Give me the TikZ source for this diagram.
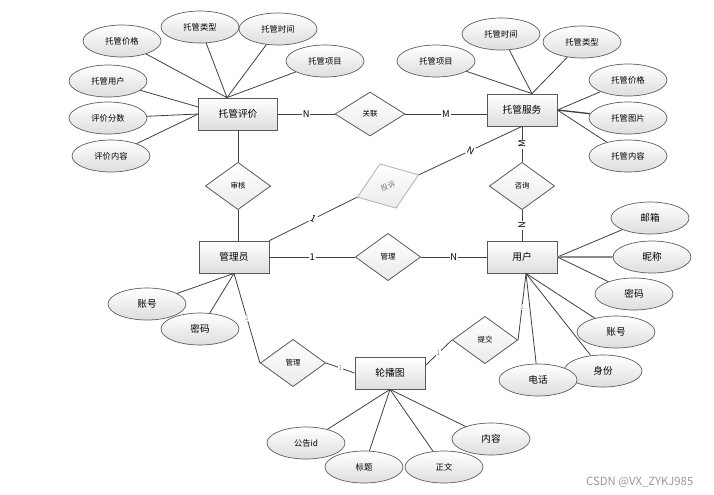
\documentclass[tikz,border=0pt]{standalone}
\usepackage{fontspec}
\setmainfont{Noto Sans CJK SC}
\usetikzlibrary{shapes.geometric}

\begin{document}
\begin{tikzpicture}[x=0.75pt,y=0.75pt,yscale=-1,xscale=1,
  line/.style={draw=black!75,line width=0.6pt},
  entity/.style={draw=black!65,line width=0.6pt,top color=white,bottom color=black!13,minimum width=52.5pt,minimum height=24pt,inner sep=0pt,font=\fontsize{7.3}{8}\selectfont},
  attr/.style={ellipse,draw=black!65,line width=0.5pt,top color=white,bottom color=black!13,minimum width=58.5pt,minimum height=24pt,inner sep=0pt,font=\fontsize{7.2}{8}\selectfont},
  attrs/.style={attr,font=\fontsize{6.2}{7}\selectfont},
  rel/.style={diamond,draw=black!65,line width=0.6pt,top color=white,bottom color=black!8,minimum width=49pt,minimum height=35.5pt,inner sep=0pt,font=\fontsize{5.6}{6}\selectfont},
  lbl/.style={fill=white,inner sep=0.6pt,font=\fontsize{7}{8}\selectfont},
  lblg/.style={lbl,text=black!45,font=\fontsize{5}{6}\selectfont}
]
\useasboundingbox (0,0) rectangle (714,494);

% entities
\node[entity,minimum width=59pt] (pj) at (238,114) {托管评价};
\node[entity] (fw) at (522,110) {托管服务};
\node[entity] (gly) at (234,257) {管理员};
\node[entity] (yh) at (522,257) {用户};
\node[entity] (lbt) at (390,373) {轮播图};

% relations
\node[rel,minimum width=52.5pt,minimum height=33pt] (gl) at (370,114) {关联};
\node[rel] (sh) at (238,186) {审核};
\node[rel,rotate=20,draw=black!30,text=black!50] (ts) at (388,186) {投诉};
\node[rel] (zx) at (522,186) {咨询};
\node[rel] (gl1) at (388,257) {管理};
\node[rel] (gl2) at (293,363) {管理};
\node[rel] (tj) at (485,340) {提交};

% attributes
\node[attrs] (pj1) at (122,41) {托管价格};
\node[attrs] (pj2) at (200,27) {托管类型};
\node[attrs] (pj3) at (278,29) {托管时间};
\node[attrs] (pj4) at (325,61) {托管项目};
\node[attrs] (pj5) at (108,81) {托管用户};
\node[attrs] (pj6) at (108,118) {评价分数};
\node[attrs] (pj7) at (111,156) {评价内容};

\node[attrs] (fw1) at (436,61) {托管项目};
\node[attrs] (fw2) at (501,34) {托管时间};
\node[attrs] (fw3) at (582,42) {托管类型};
\node[attrs] (fw4) at (628,80) {托管价格};
\node[attrs] (fw5) at (628,118) {托管图片};
\node[attrs] (fw6) at (628,156) {托管内容};

\node[attr] (yh1) at (650,218) {邮箱};
\node[attr] (yh2) at (652,257) {昵称};
\node[attr] (yh3) at (634,294) {密码};
\node[attr] (yh4) at (616,332) {账号};
\node[attr] (yh5) at (603,371) {身份};
\node[attr] (yh6) at (538,380) {电话};

\node[attr] (gly1) at (147,304) {账号};
\node[attr] (gly2) at (200,329) {密码};

\node[attrs] (lb1) at (306,443) {公告id};
\node[attrs] (lb2) at (364,467) {标题};
\node[attrs] (lb3) at (444,467) {正文};
\node[attr] (lb4) at (491,439) {内容};

\node[text=black!40,font=\fontsize{8.5}{9}\selectfont,anchor=east] (wm) at (698,482) {CSDN @VX\_ZYKJ985};

% attribute lines
\coordinate (pjt) at ([xshift=-8.25pt]pj.north);
\foreach \a in {pj1,pj2,pj3,pj4} \draw[line] (\a) -- (pjt);
\draw[line] (pj5) -- (pj.170);
\draw[line] (pj6) -- (pj.west);
\draw[line] (pj7) -- (pj.west);

\coordinate (fwt) at ([xshift=7.5pt]fw.north);
\foreach \a in {fw1,fw2,fw3} \draw[line] (\a) -- (fwt);
\draw[line] (fw4) -- (fw.east);
\draw[line,line width=1pt] (fw5) -- (fw.east);
\draw[line] (fw6) -- (fw.east);

\draw[line] (yh1) -- (yh.east);
\draw[line,draw=black!45,line width=1.3pt] (yh2) -- (yh.east);
\draw[line] (yh3) -- (yh.east);
\coordinate (yhb) at ([xshift=3pt]yh.south);
\foreach \a in {yh4,yh5,yh6} \draw[line] (\a) -- (yhb);

\foreach \a in {gly1,gly2} \draw[line] (\a) -- (gly.south);
\foreach \a in {lb1,lb2,lb3,lb4} \draw[line] (\a) -- (lbt.south);

% relation lines
\draw[line] (pj) -- node[lbl]{N} (gl);
\draw[line] (gl.east) -- node[lbl]{M} (gl.east -| fw.west);
\draw[line] (pj) -- (sh);
\draw[line] (sh) -- (sh |- gly.north);
\draw[line] (gly.north east) -- node[lbl,sloped]{1} (ts.west);
\draw[line] (ts.east) -- node[lbl,sloped]{N} (fw.south);
\draw[line] (fw) -- node[lbl,rotate=90]{M} (zx);
\draw[line] (zx) -- node[lbl,rotate=90]{N} (yh);
\draw[line] (gly) -- node[lbl]{1} (gl1);
\draw[line] (gl1) -- node[lbl]{N} (yh);
\draw[line] (gly.south) -- node[lblg]{1} (gl2.west);
\draw[line] (gl2.east) -- node[lblg]{1} (lbt.west);
\draw[line] (lbt.12) -- node[lblg]{1} (tj.west);
\draw[line] (yhb) -- node[lblg]{1} (tj.east);

\end{tikzpicture}
\end{document}
